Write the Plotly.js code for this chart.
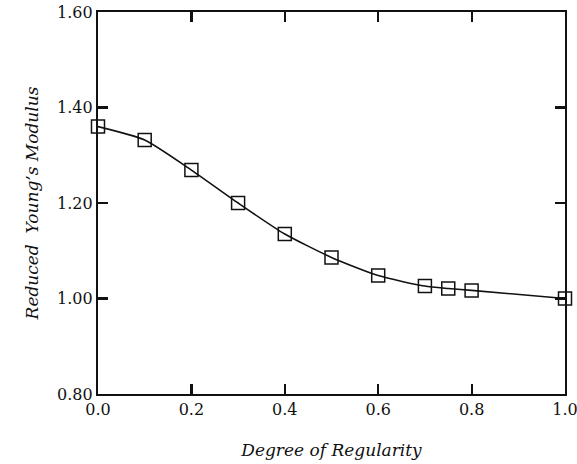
<!DOCTYPE html>
<html>
<head>
<meta charset="utf-8">
<script src="https://cdn.plot.ly/plotly-3.0.1.min.js"></script>
<style>html,body{margin:0;padding:0;background:#fff;}#chart{width:577px;height:464px;}</style>
</head>
<body>
<div id="chart"></div>
<script>
const regularity = [0.0, 0.1, 0.2, 0.3, 0.4, 0.5, 0.6, 0.7, 0.75, 0.8, 1.0];
const modulus = [1.360, 1.332, 1.269, 1.200, 1.135, 1.086, 1.048, 1.026, 1.021, 1.017, 1.000];
const xTickVals = [0.0, 0.2, 0.4, 0.6, 0.8, 1.0];
const xTickText = ["0.0", "0.2", "0.4", "0.6", "0.8", "1.0"];
const yTickVals = [0.80, 1.00, 1.20, 1.40, 1.60];
const yTickText = ["0.80", "1.00", "1.20", "1.40", "1.60"];

const trace = {
  x: regularity, y: modulus, type: 'scatter', mode: 'lines+markers',
  line: {color: '#111', width: 1.6, shape: 'spline', smoothing: 0.6},
  marker: {symbol: 'square-open', size: 13, color: '#111', line: {width: 1.5, color: '#111'}},
  cliponaxis: false, showlegend: false
};

const tickFont = {family: 'DejaVu Serif, serif', size: 16, color: '#111'};
const layout = {
  width: 577, height: 464,
  margin: {l: 98, r: 12, t: 12, b: 70},
  paper_bgcolor: '#fff', plot_bgcolor: '#fff',
  xaxis: {
    range: [0, 1], tickvals: xTickVals, ticktext: xTickText,
    ticks: 'inside', ticklen: 10, tickwidth: 2.2, tickcolor: '#111',
    showline: true, linewidth: 2.2, linecolor: '#111', mirror: 'allticks',
    showgrid: false, zeroline: false, tickfont: tickFont, ticklabeloverflow: 'allow',
    title: {text: 'Degree of Regularity', font: {family: 'DejaVu Serif, serif', size: 17, color: '#111', style: 'italic'}, standoff: 26}
  },
  yaxis: {
    range: [0.8, 1.6], tickvals: yTickVals, ticktext: yTickText,
    ticks: 'inside', ticklen: 10, tickwidth: 2.2, tickcolor: '#111',
    showline: true, linewidth: 2.2, linecolor: '#111', mirror: 'allticks',
    showgrid: false, zeroline: false, tickfont: tickFont, ticklabeloverflow: 'allow',
    title: {text: 'Reduced  Young\u2019s Modulus', font: {family: 'DejaVu Serif, serif', size: 17, color: '#111', style: 'italic'}, standoff: 14}
  }
};
Plotly.newPlot('chart', [trace], layout, {displayModeBar: false, staticPlot: true});
</script>
</body>
</html>
